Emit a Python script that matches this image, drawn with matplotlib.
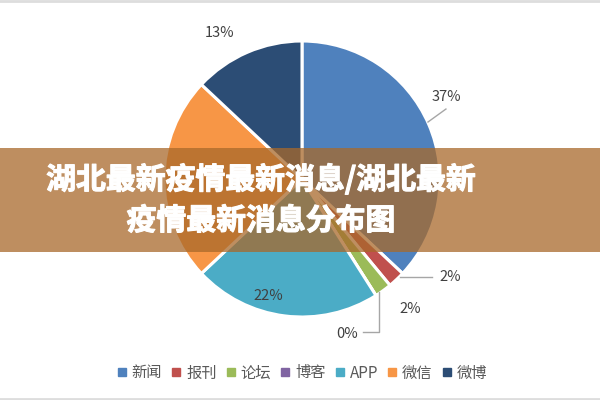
import matplotlib
matplotlib.use("Agg")
import matplotlib.pyplot as plt
import matplotlib.patheffects as pe
from matplotlib.patches import Rectangle
from matplotlib.lines import Line2D

plt.rcParams['font.family'] = ['Noto Sans CJK SC', 'DejaVu Sans']

# ---- data ----
categories = ['新闻', '报刊', '论坛', '博客', 'APP', '微信', '微博']
values = [37, 2, 2, 0, 22, 24, 13]
colors = ['#4F81BD', '#C0504D', '#9BBB59', '#8064A2', '#4BACC6', '#F79646', '#2C4D75']
title = '湖北最新疫情最新消息/湖北最新\n疫情最新消息分布图'

# ---- layout (label positions in pie-radius units) ----
label_pos = [(1.043, 0.594), (1.072, -0.710), (0.783, -0.942), (0.326, -1.123),
             (-0.246, -0.848), None, (-0.60, 1.058)]
leaders = [[(0.913, 0.413), (1.043, 0.507)],
           [(0.710, -0.710), (0.942, -0.710)],
           None,
           [(0.558, -0.819), (0.558, -1.109), (0.442, -1.109)],
           None, None, None]

W, H = 600, 400
fig = plt.figure(figsize=(6, 4), dpi=100)
fig.patch.set_facecolor('white')

cx, cy, R = 302, 179, 138
ax = fig.add_axes([(cx - 2 * R) / W, 0, 4 * R / W, 1])

wedges, _ = ax.pie(values, colors=colors, startangle=90, counterclock=False,
                   radius=1, center=(0, 0),
                   wedgeprops=dict(edgecolor='white', linewidth=2.2))
ax.set_aspect('auto')
ax.set_xlim(-2, 2)
ax.set_ylim(-(H - cy) / R, cy / R)
ax.axis('off')

for v, pos in zip(values, label_pos):
    if pos is None:
        continue
    ax.text(pos[0], pos[1], f'{v}%', ha='center', va='center',
            fontsize=10.5, color='#404040')
for ld in leaders:
    if ld is None:
        continue
    xs, ys = zip(*ld)
    ax.plot(xs, ys, color='#A6A6A6', lw=1)

handles = [Line2D([0], [0], marker='s', linestyle='none', markersize=5.5,
                  markerfacecolor=c, markeredgecolor=c) for c in colors]
fig.legend(handles, categories, loc='center', bbox_to_anchor=(302 / W, 1 - 373 / H),
           ncol=len(categories), frameon=False, fontsize=11,
           handlelength=0.6, handletextpad=0.35, columnspacing=0.62,
           labelcolor='#595959')

# banner overlay
fig.patches.append(Rectangle((0, 1 - 252 / H), 1, 104 / H, transform=fig.transFigure,
                             facecolor='#A8692B', alpha=0.75, edgecolor='none', zorder=5))
fig.text(261 / W, 1 - 200 / H, title, ha='center', va='center', color='white',
         fontsize=21.5, fontweight='bold', linespacing=1.45, zorder=6,
         path_effects=[pe.withStroke(linewidth=0.8, foreground='white')])

# thin gray frame lines top and bottom
fig.add_artist(Line2D([0, 1], [1 - 1 / H, 1 - 1 / H], transform=fig.transFigure,
                      color='#DDDDDD', lw=2))
fig.add_artist(Line2D([0, 1], [1 / H, 1 / H], transform=fig.transFigure,
                      color='#DDDDDD', lw=2))

fig.savefig('out.png', dpi=100, facecolor='white')
